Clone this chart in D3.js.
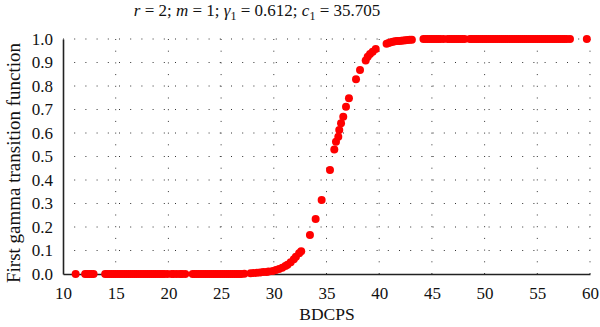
<!DOCTYPE html>
<html><head><meta charset="utf-8">
<script src="https://cdn.jsdelivr.net/npm/d3@7"></script>
<style>
body{margin:0;background:#fff;}
svg{display:block;font-family:"Liberation Serif","Times New Roman",serif;}
</style></head>
<body><svg id="c" width="600" height="327"></svg>
<script>
// ---- data ----
const bdcps = [
  11.2,
  12.1,12.3,12.5,12.7,12.9,
  14.0,14.2,14.4,14.6,14.8,15.0,15.2,15.4,15.6,15.8,16.0,16.2,16.4,16.6,16.8,17.0,17.2,17.4,17.6,17.8,18.0,18.2,18.4,18.6,18.8,19.0,19.2,19.4,19.6,19.9,
  20.3,20.5,20.8,21.1,21.3,21.6,
  22.3,22.5,22.7,22.9,23.1,23.3,23.5,23.7,23.9,24.1,24.3,24.5,24.7,24.9,25.1,25.3,25.5,25.7,25.9,26.1,26.3,26.5,26.7,26.9,27.2,
  27.8,28.1,28.4,28.7,29.0,29.3,29.5,
  29.9,30.2,30.5,30.8,31.1,31.3,31.6,31.9,32.1,32.4,32.6,
  33.43,33.97,34.54,35.33,35.74,35.9,36.12,36.21,36.38,36.59,36.85,37.13,37.8,38.18,38.72,38.91,39.13,39.38,39.67,
  40.7,40.9,41.1,41.3,41.5,41.7,41.9,42.1,42.3,42.5,42.7,42.9,43.1,
  44.2,44.4,44.6,44.8,45.0,45.2,45.4,45.6,45.8,46.1,
  46.5,46.7,46.9,47.1,47.3,47.5,47.7,47.9,48.1,
  48.6,48.8,49.0,49.2,49.4,49.6,49.8,50.0,50.2,50.4,50.6,50.8,51.0,51.2,51.4,51.6,51.8,52.0,52.2,52.4,52.6,52.8,53.0,53.2,53.4,53.6,53.8,54.0,54.2,54.4,54.6,54.8,55.0,55.2,55.4,55.6,55.8,56.0,56.2,56.4,56.6,56.8,57.0,57.2,57.4,57.6,57.8,58.1,
  59.7
];
const gammaValue = [
  0,
  0,0,0,0,0,
  0,0,0,0,0,0,0,0,0,0,0,0,0,0,0,0,0,0,0,0,0,0,0,0,0,0,0,0,0,0,
  0,0,0,0,0,0,
  0,0,0,0,0,0,0,0,0,0,0,0,0,0,0,0,0,0,0,0,0,0,0,0,0.001,
  0.003,0.004,0.005,0.006,0.008,0.009,0.011,
  0.013,0.017,0.021,0.027,0.034,0.039,0.05,0.063,0.073,0.088,0.097,
  0.166,0.234,0.315,0.443,0.53,0.563,0.584,0.613,0.641,0.669,0.712,0.748,0.829,0.868,0.908,0.925,0.936,0.946,0.957,
  0.98,0.983,0.986,0.988,0.99,0.991,0.992,0.993,0.994,0.995,0.996,0.997,0.997,
  1,1,1,1,1,1,1,1,1,1,
  1,1,1,1,1,1,1,1,1,
  1,1,1,1,1,1,1,1,1,1,1,1,1,1,1,1,1,1,1,1,1,1,1,1,1,1,1,1,1,1,1,1,1,1,1,1,1,1,1,1,1,1,1,1,1,1,1,1,
  1
];
const xTicks = [10,15,20,25,30,35,40,45,50,55,60];
const yTicks = [0,0.1,0.2,0.3,0.4,0.5,0.6,0.7,0.8,0.9,1.0];

// ---- drawing ----
const svg = d3.select("#c");
const L = 63, R = 590, T = 39, B = 274;
const x = d3.scaleLinear().domain([10,60]).range([L,R]);
const y = d3.scaleLinear().domain([0,1]).range([B,T]);

// grid
const grid = svg.append("g");
grid.selectAll("line.h").data(yTicks.slice(1)).join("line")
  .attr("x1",L).attr("x2",R).attr("y1",d=>y(d)).attr("y2",d=>y(d))
  .attr("stroke","#333").attr("stroke-width",1).attr("stroke-dasharray","1,10.2");
grid.selectAll("line.v").data(xTicks.slice(1)).join("line")
  .attr("x1",d=>x(d)).attr("x2",d=>x(d)).attr("y1",B).attr("y2",T)
  .attr("stroke","#333").attr("stroke-width",1).attr("stroke-dasharray","1,10.7");

// axes
const xAxis = d3.axisBottom(x).tickValues(xTicks).tickSize(0).tickPadding(13).tickFormat(d3.format("d"));
const gx = svg.append("g").attr("transform",`translate(0,${B})`).call(xAxis);
const yAxis = d3.axisLeft(y).tickValues(yTicks).tickSize(0).tickPadding(10).tickFormat(d3.format(".1f"));
const gy = svg.append("g").attr("transform",`translate(${L},0)`).call(yAxis);
[gx,gy].forEach(g=>{
  g.select(".domain").attr("stroke","#222").attr("stroke-width",1.6);
  g.selectAll("text").attr("font-family","Liberation Serif, serif").attr("font-size",17).attr("fill","#111");
});

// points
svg.append("g").selectAll("circle").data(bdcps.map((v,i)=>[v,gammaValue[i]])).join("circle")
  .attr("cx",d=>x(d[0])).attr("cy",d=>y(d[1])).attr("r",4).attr("fill","#ff0000");

// title
const t = svg.append("text").attr("x",257).attr("y",16).attr("text-anchor","middle")
  .attr("font-size",17).attr("fill","#111");
t.append("tspan").attr("font-style","italic").text("r");
t.append("tspan").text(" = 2; ");
t.append("tspan").attr("font-style","italic").text("m");
t.append("tspan").text(" = 1; ");
t.append("tspan").attr("font-style","italic").text("γ");
t.append("tspan").attr("font-size",12).attr("dy",4).text("1");
t.append("tspan").attr("dy",-4).text(" = 0.612; ");
t.append("tspan").attr("font-style","italic").text("c");
t.append("tspan").attr("font-size",12).attr("dy",4).text("1");
t.append("tspan").attr("dy",-4).text(" = 35.705");

// axis titles
svg.append("text").attr("x",327).attr("y",320).attr("text-anchor","middle")
  .attr("font-size",17.5).attr("fill","#111").text("BDCPS");
svg.append("text").attr("transform","translate(20,163) rotate(-90)").attr("text-anchor","middle")
  .attr("font-size",19).attr("fill","#111").text("First gamma transition function");
</script></body></html>
